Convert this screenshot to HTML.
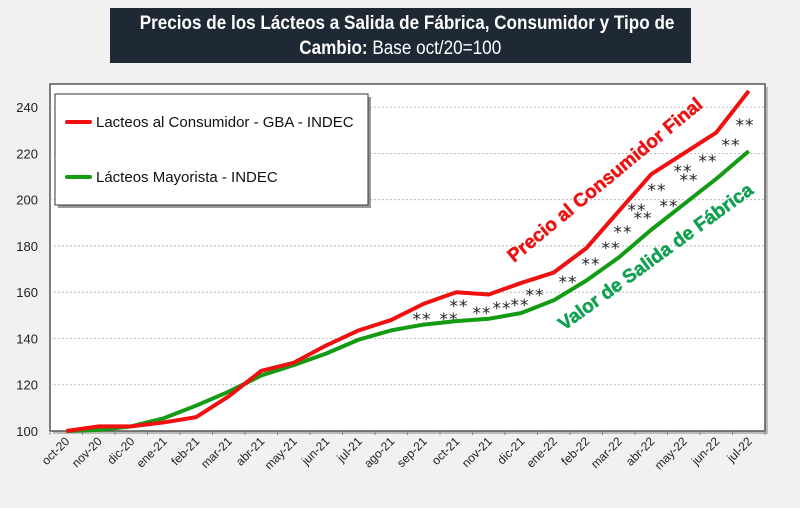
<!DOCTYPE html>
<html><head><meta charset="utf-8"><style>
body{margin:0;background:#f1f1f1;font-family:"Liberation Sans",sans-serif}
#wrap{position:relative;width:800px;height:508px;overflow:hidden}
#title{position:absolute;left:110px;top:8px;width:581px;height:55px;background:#1f2835;color:#fff;text-align:center;font-size:19px;line-height:25px;padding-top:3px;box-sizing:border-box;overflow:hidden}
#title span{display:inline-block;white-space:nowrap;transform:scaleX(0.9);transform-origin:center}
</style></head><body>
<div id="wrap">
<div id="title"><span><b>Precios de los Lácteos a Salida de Fábrica, Consumidor y Tipo de</b></span><br><span><b>Cambio:</b> Base oct/20=100</span></div>
<svg id="chart" width="800" height="508" style="position:absolute;left:0;top:0"></svg>
</div>
<script>
const categories=["oct-20","nov-20","dic-20","ene-21","feb-21","mar-21","abr-21","may-21","jun-21","jul-21","ago-21","sep-21","oct-21","nov-21","dic-21","ene-22","feb-22","mar-22","abr-22","may-22","jun-22","jul-22"];
const consumidor=[100,102,102,103.7,106,115,126,129.5,137,143.5,148,155,160,159,164,168.5,179,195,211,220,229,247];
const mayorista=[100,100.5,102,105.5,111,117,124,128.5,133.5,139.5,143.5,146,147.5,148.5,151,156.5,165,175,187,198,209,221];
const yTicks=[100,120,140,160,180,200,220,240];
const seriesNames=["Lacteos al Consumidor - GBA - INDEC","Lácteos Mayorista - INDEC"];
const svg=document.getElementById('chart');const NS='http://www.w3.org/2000/svg';
const L=50,R=765,T=84,B=431,yMin=100,yMax=250;
const bw=(R-L)/categories.length;
const x=i=>L+bw*(i+0.5);
const y=v=>B-(v-yMin)/(yMax-yMin)*(B-T);
function mk(tag,attrs,parent){const e=document.createElementNS(NS,tag);for(const k in attrs)e.setAttribute(k,attrs[k]);(parent||svg).appendChild(e);return e;}
mk('rect',{x:L+3,y:T+3,width:R-L,height:B-T,fill:'#bbb'});
const bg=mk('rect',{x:L,y:T,width:R-L,height:B-T,fill:'#fff',stroke:'#555','stroke-width':1.5});


yTicks.forEach(v=>{
 if(v>yMin){const g=mk('line',{x1:L,x2:R,y1:y(v),y2:y(v),stroke:'#aaa','stroke-dasharray':'2,2','stroke-width':0.8});
 
 }
 const t=mk('text',{x:38,y:y(v)+5,'text-anchor':'end','font-size':13,fill:'#222'});t.textContent=v;
 
 
});
categories.forEach((c,i)=>{
 mk('line',{x1:L+bw*i,x2:L+bw*i,y1:B,y2:B+4,stroke:'#888'});
 const t=mk('text',{x:x(i)+4,y:B+11,'text-anchor':'end','font-size':12,fill:'#222',transform:`rotate(-45 ${x(i)+4} ${B+11})`});t.textContent=c;
 
 
});
mk('line',{x1:R,x2:R,y1:B,y2:B+4,stroke:'#888'});
function line(data,color,name){const p=mk('polyline',{points:data.map((v,i)=>x(i)+','+y(v)).join(' '),fill:'none',stroke:color,'stroke-width':4,'stroke-linejoin':'round'});
 
 }
line(mayorista,'#139b13','series-mayorista');
line(consumidor,'#f01010','series-consumidor');
[[422,317],[449,317],[459,304],[482,311],[502,306],[520,303],[535,293],[568,280],[591,262],[611,246],[623,230],[637,208],[643,216],[657,188],[669,204],[683,169],[689,178],[708,159],[731,143],[745,123]].forEach(p=>{
 const t=mk('text',{x:p[0],y:p[1]+8,'text-anchor':'middle','font-size':17,'font-family':'DejaVu Sans, sans-serif','letter-spacing':'1',fill:'#222'});t.textContent='**';
 
 
});
let a=mk('text',{x:0,y:0,'font-size':19,'font-weight':'bold',fill:'#ee1111',stroke:'#ee1111','stroke-width':0.5,transform:'translate(514,263) rotate(-39.5)'});a.textContent='Precio al Consumidor Final';


a=mk('text',{x:0,y:0,'font-size':19,'font-weight':'bold',fill:'#10a050',stroke:'#10a050','stroke-width':0.5,transform:'translate(564,331) rotate(-36)'});a.textContent='Valor de Salida de Fábrica';


mk('rect',{x:58,y:97,width:313,height:111,fill:'#999'});
const lg=mk('rect',{x:55,y:94,width:313,height:111,fill:'#fff',stroke:'#333','stroke-width':1});


[['#f01010',122],['#139b13',177]].forEach((d,i)=>{
 mk('line',{x1:67,x2:90,y1:d[1],y2:d[1],stroke:d[0],'stroke-width':4,'stroke-linecap':'round'});
 const t=mk('text',{x:96,y:d[1]+5,'font-size':15,fill:'#111'});t.textContent=seriesNames[i];
 
 
});
</script>
</body></html>
